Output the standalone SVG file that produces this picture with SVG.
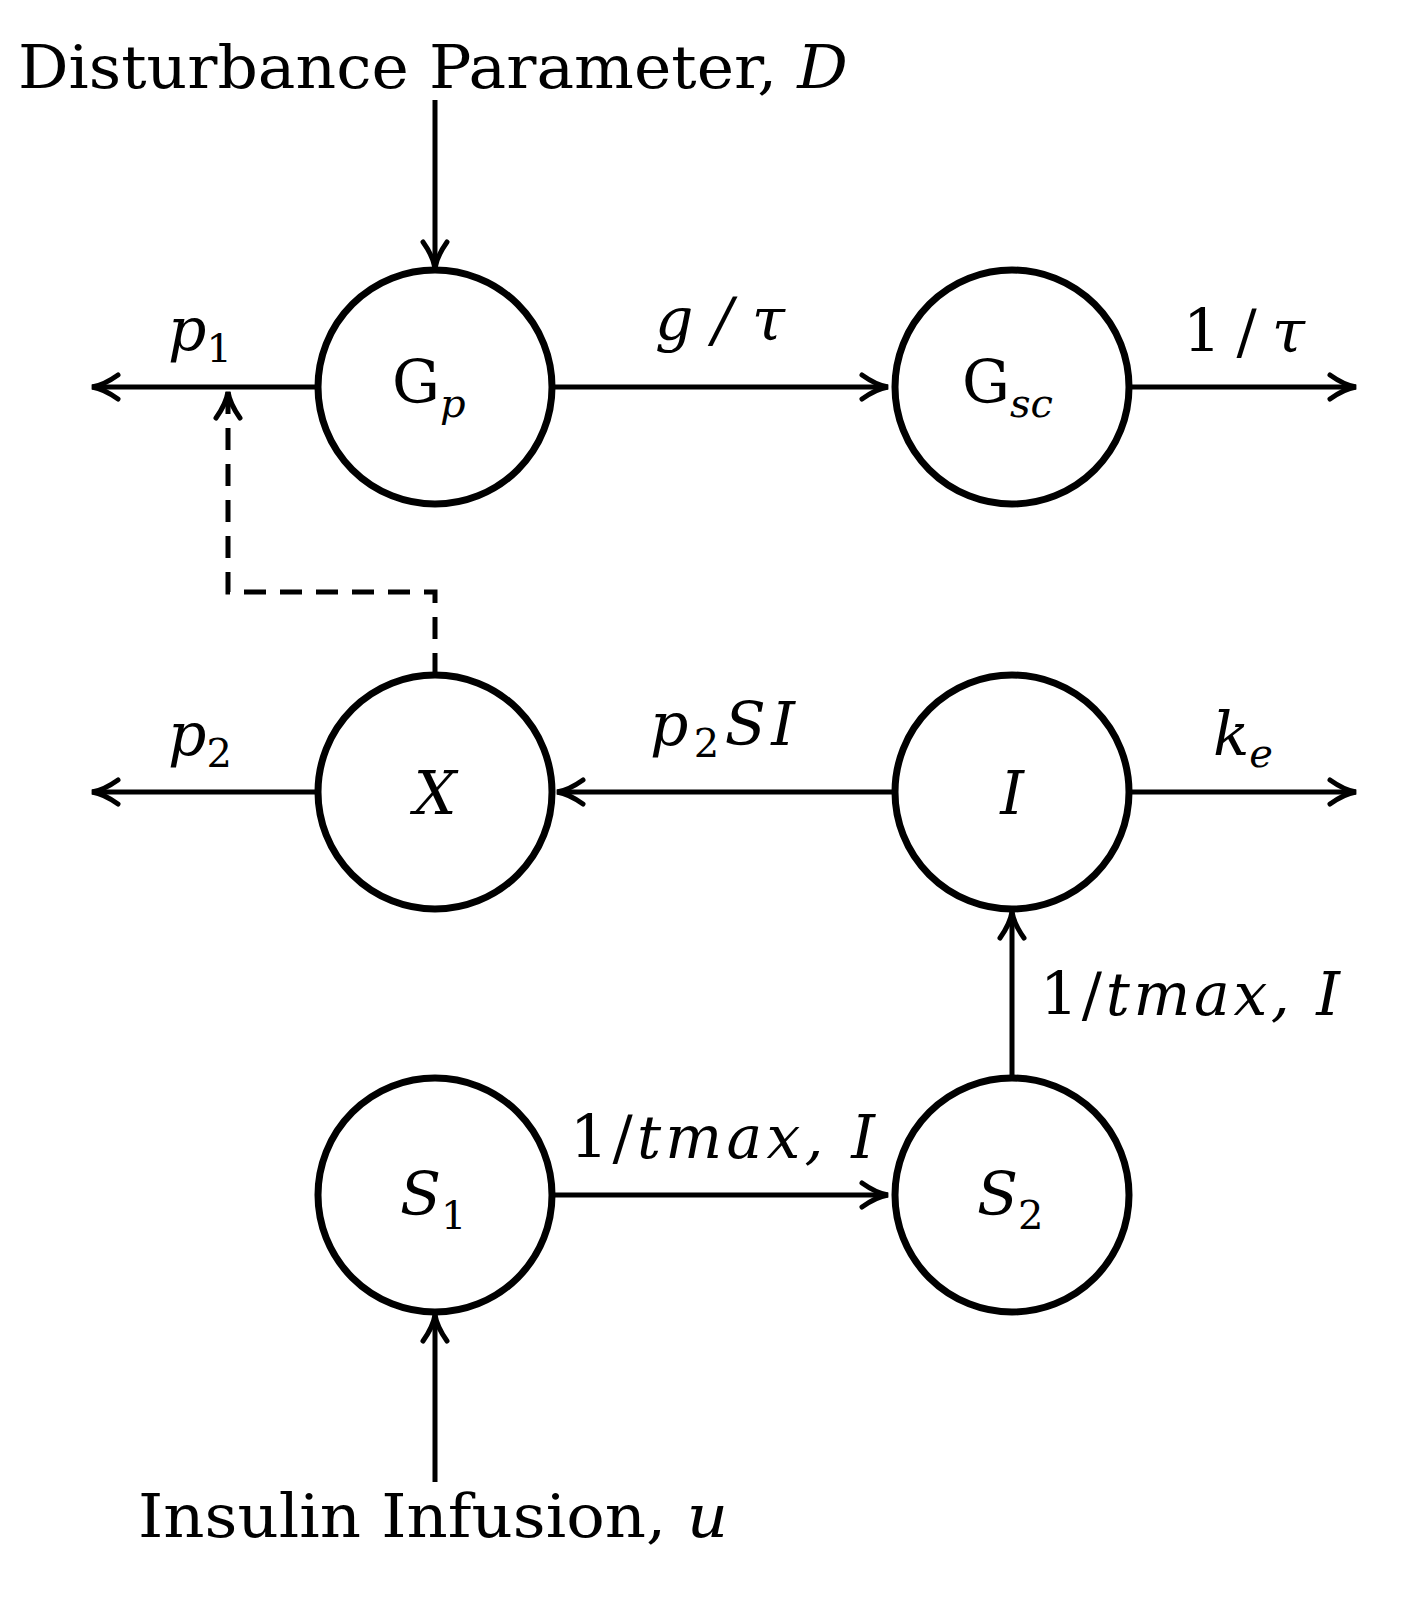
<svg xmlns="http://www.w3.org/2000/svg" width="1414" height="1606" viewBox="0 0 1414 1606">
<style>
.n{fill:#fff;stroke:#000;stroke-width:7}
.c{stroke:#000;stroke-width:5;fill:none}
.d{stroke-dasharray:22,14}
text{font-family:"DejaVu Serif","Liberation Serif",serif;font-size:60px;fill:#000}
.i{font-style:italic}
.s{font-size:40px}
</style>
<defs>
<marker id="b" viewBox="0 0 32 32" refX="30" refY="16" markerWidth="32" markerHeight="32" markerUnits="userSpaceOnUse" orient="auto">
<path d="M4,4 Q18,14 30,16 Q18,18 4,28" fill="none" stroke="#000" stroke-width="5" stroke-linecap="round"/>
</marker>
</defs>
<g id="connectors">
<line class="c" x1="435" y1="100" x2="435" y2="268" marker-end="url(#b)"/>
<line class="c" x1="318" y1="387" x2="92" y2="387" marker-end="url(#b)"/>
<line class="c" x1="552" y1="387" x2="888" y2="387" marker-end="url(#b)"/>
<line class="c" x1="1130" y1="387" x2="1356" y2="387" marker-end="url(#b)"/>
<polyline class="c d" points="435,675 435,592 228,592 228,392" marker-end="url(#b)"/>
<line class="c" x1="318" y1="792" x2="92" y2="792" marker-end="url(#b)"/>
<line class="c" x1="895" y1="792" x2="557" y2="792" marker-end="url(#b)"/>
<line class="c" x1="1130" y1="792" x2="1356" y2="792" marker-end="url(#b)"/>
<line class="c" x1="1012" y1="1077" x2="1012" y2="912" marker-end="url(#b)"/>
<line class="c" x1="552" y1="1195" x2="888" y2="1195" marker-end="url(#b)"/>
<line class="c" x1="435" y1="1482" x2="435" y2="1315" marker-end="url(#b)"/>
</g>
<g id="labels">
<text x="18" y="88" textLength="830" lengthAdjust="spacingAndGlyphs">Disturbance Parameter, <tspan class="i">D</tspan></text>
<text x="168" y="350" class="i">p<tspan class="s" font-style="normal" dy="12">1</tspan></text>
<text x="655" y="340" class="i" textLength="130" lengthAdjust="spacing">g/τ</text>
<text x="1183" y="352" textLength="122" lengthAdjust="spacing">1/<tspan class="i">τ</tspan></text>
<text x="168" y="755" class="i">p<tspan class="s" font-style="normal" dy="12">2</tspan></text>
<text x="650" y="745" class="i" textLength="145" lengthAdjust="spacing">p<tspan class="s" font-style="normal" dy="12">2</tspan><tspan dy="-12">SI</tspan></text>
<text x="1213" y="755" class="i">k<tspan class="s" dy="12">e</tspan></text>
<text x="1040" y="1015" textLength="300" lengthAdjust="spacing">1/<tspan class="i">tmax, I</tspan></text>
<text x="570" y="1158" textLength="305" lengthAdjust="spacing">1/<tspan class="i">tmax, I</tspan></text>
<text x="138" y="1537" textLength="590" lengthAdjust="spacingAndGlyphs">Insulin Infusion, <tspan class="i">u</tspan></text>
</g>
<g id="Gp"><circle class="n" cx="435" cy="387" r="117"/><text x="392" y="403">G<tspan class="s i" dy="14">p</tspan></text></g>
<g id="Gsc"><circle class="n" cx="1012" cy="387" r="117"/><text x="962" y="403">G<tspan class="s i" dy="14">sc</tspan></text></g>
<g id="X"><circle class="n" cx="435" cy="792" r="117"/><text x="435" y="814" text-anchor="middle" class="i">X</text></g>
<g id="I"><circle class="n" cx="1012" cy="792" r="117"/><text x="1012" y="814" text-anchor="middle" class="i">I</text></g>
<g id="S1"><circle class="n" cx="435" cy="1195" r="117"/><text x="400" y="1215" class="i">S<tspan class="s" font-style="normal" dy="14">1</tspan></text></g>
<g id="S2"><circle class="n" cx="1012" cy="1195" r="117"/><text x="977" y="1215" class="i">S<tspan class="s" font-style="normal" dy="14">2</tspan></text></g>
</svg>
